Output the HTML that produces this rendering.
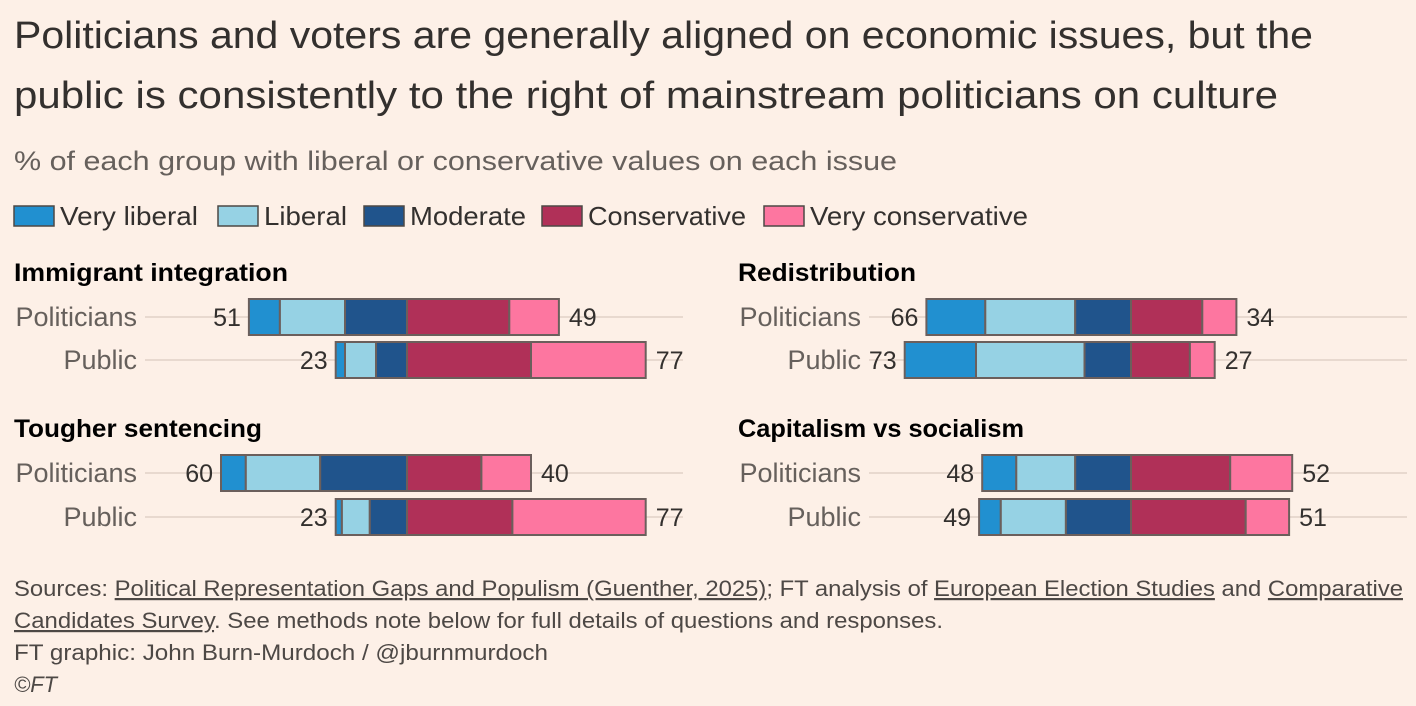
<!DOCTYPE html>
<html><head><meta charset="utf-8"><style>
body{margin:0;background:#fdf0e7;}
svg{display:block;font-family:"Liberation Sans",sans-serif;}
</style></head><body>
<svg id="c" width="1416" height="706">
<rect width="1416" height="706" fill="#fdf0e7"/>
<text x="14" y="48" font-size="38" fill="#33302e" textLength="1299" lengthAdjust="spacingAndGlyphs">Politicians and voters are generally aligned on economic issues, but the</text>
<text x="14" y="108" font-size="38" fill="#33302e" textLength="1264" lengthAdjust="spacingAndGlyphs">public is consistently to the right of mainstream politicians on culture</text>
<text x="14" y="170" font-size="27" fill="#66605c" textLength="883" lengthAdjust="spacingAndGlyphs">% of each group with liberal or conservative values on each issue</text>
<g id="legend"></g>
<g id="panels"></g>
<g font-size="22" fill="#4d4845">
<text x="14" y="596" textLength="1389" lengthAdjust="spacingAndGlyphs">Sources: <tspan text-decoration="underline">Political Representation Gaps and Populism (Guenther, 2025)</tspan>; FT analysis of <tspan text-decoration="underline">European Election Studies</tspan> and <tspan text-decoration="underline">Comparative</tspan></text>
<text x="14" y="628" textLength="929" lengthAdjust="spacingAndGlyphs"><tspan text-decoration="underline">Candidates Survey</tspan>. See methods note below for full details of questions and responses.</text>
<text x="14" y="660" textLength="534" lengthAdjust="spacingAndGlyphs">FT graphic: John Burn-Murdoch / @jburnmurdoch</text>
<text x="14" y="692" font-style="italic">©FT</text>
</g>
</svg>
<script>
const categories=["Very liberal","Liberal","Moderate","Conservative","Very conservative"];
const colors=["#2190d0","#96d2e4","#20548c","#b03058","#fd76a0"];
const panelTitles=["Immigrant integration","Redistribution","Tougher sentencing","Capitalism vs socialism"];
const rowLabels=["Politicians","Public"];
const immPol=[10,21,20,33,16], immPub=[3,10,10,40,37];
const redPol=[19,29,18,23,11], redPub=[23,35,15,19,8];
const tghPol=[8,24,28,24,16], tghPub=[2,9,12,34,43];
const capPol=[11,19,18,32,20], capPub=[7,21,21,37,14];
const libTotals=[[51,23],[66,73],[60,23],[48,49]];
const conTotals=[[49,77],[34,27],[40,77],[52,51]];
const series=[[immPol,immPub],[redPol,redPub],[tghPol,tghPub],[capPol,capPub]];
const NS="http://www.w3.org/2000/svg";
const svg=document.getElementById('c');
function mk(t,a,p){const e=document.createElementNS(NS,t);for(const k in a)e.setAttribute(k,a[k]);(p||svg).appendChild(e);return e;}
// legend layout (pixel positions)
const legSwX=[14,218,364,542,764];
const legTxtW=[138,83,116,158,218];
const lg=document.getElementById('legend');
categories.forEach((c,i)=>{
 const r=mk('rect',{x:legSwX[i],y:206,width:40,height:20,fill:colors[i],stroke:'#4d4845','stroke-width':1.5},lg);
 
 
 const t=mk('text',{x:legSwX[i]+46,y:225,'font-size':26,fill:'#33302e',textLength:legTxtW[i],lengthAdjust:'spacingAndGlyphs'},lg);
 t.textContent=c;
 
 
});
const scale=3.1;
const panelX=[0,724], centers=[407,1131];
const rowY=[[317,360],[317,360],[473,517],[473,517]];
const titleY=[281,281,437,437];
const titleW=[274,178,248,286];
const pg=document.getElementById('panels');
series.forEach((pair,p)=>{
 const col=p%2, ox=panelX[col], cx=centers[col];
 const tt=mk('text',{x:ox+14,y:titleY[p],'font-size':25,'font-weight':'bold',fill:'#000',textLength:titleW[p],lengthAdjust:'spacingAndGlyphs'},pg);
 tt.textContent=panelTitles[p];
 
 
 pair.forEach((vals,r)=>{
  const y=rowY[p][r];
  const gl=mk('line',{x1:ox+145,x2:ox+683,y1:y,y2:y,stroke:'#e8d9cf','stroke-width':2},pg);
  
  
  const lab=mk('text',{x:ox+137,y:y+9,'font-size':27,fill:'#66605c','text-anchor':'end'},pg);
  lab.textContent=rowLabels[r];
  
  
  const lib=vals[0]+vals[1]+vals[2];
  let x=cx-lib*scale;
  const start=x;
  vals.forEach((v,i)=>{
   const w=v*scale;
   const b=mk('rect',{x:x,y:y-18,width:w,height:36,fill:colors[i],stroke:'#6b5f5c','stroke-width':2},pg);
   
   
   x+=w;
  });
  const lt=mk('text',{x:start-8,y:y+9,'font-size':25,fill:'#33302e','text-anchor':'end'},pg);
  lt.textContent=libTotals[p][r];
  
  
  const rt=mk('text',{x:x+10,y:y+9,'font-size':25,fill:'#33302e'},pg);
  rt.textContent=conTotals[p][r];
  
  
 });
});
</script>
</body></html>
